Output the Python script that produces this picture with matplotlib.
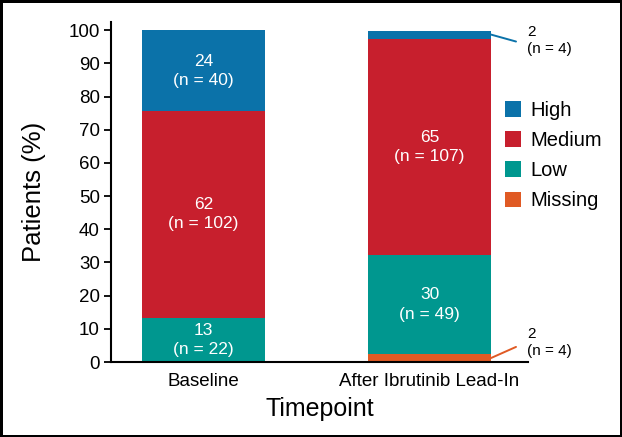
import matplotlib
matplotlib.use("Agg")
import matplotlib.pyplot as plt
import numpy as np

# ---- data ----
categories = ['Baseline', 'After Ibrutinib Lead-In']
series_names = ['Missing', 'Low', 'Medium', 'High']
missing_pct = [0.0, 2.4]
low_pct = [13.4, 29.9]
medium_pct = [62.2, 65.2]
high_pct = [24.4, 2.4]
missing_lbl = [None, 2]
low_lbl = [13, 30]
medium_lbl = [62, 65]
high_lbl = [24, 2]
missing_n = [None, 4]
low_n = [22, 49]
medium_n = [102, 107]
high_n = [40, 4]
yticks = list(range(0, 101, 10))

colors = {'High': '#0b72a9', 'Medium': '#c71f2d', 'Low': '#00978f', 'Missing': '#e05a24'}

plt.rcParams['font.family'] = ['Liberation Sans', 'DejaVu Sans']

fig = plt.figure(figsize=(6.22, 4.37), dpi=100)
fig.patch.set_edgecolor('black')
fig.patch.set_linewidth(2.5)
ax = fig.add_axes([0.1785, 0.1716, 0.6705, 0.7781])

x = np.arange(len(categories))
w = 0.544
pct = {'Missing': missing_pct, 'Low': low_pct, 'Medium': medium_pct, 'High': high_pct}
lbl = {'Missing': missing_lbl, 'Low': low_lbl, 'Medium': medium_lbl, 'High': high_lbl}
nn = {'Missing': missing_n, 'Low': low_n, 'Medium': medium_n, 'High': high_n}

bottom = np.zeros(len(categories))
handles = {}
for name in series_names:
    vals = np.array(pct[name])
    b = ax.bar(x, vals, w, bottom=bottom, color=colors[name], label=name, linewidth=0)
    handles[name] = b
    for i in range(len(categories)):
        v = vals[i]
        if v <= 0:
            continue
        yc = bottom[i] + v / 2
        txt = f"{lbl[name][i]}\n(n = {nn[name][i]})"
        if v >= 10:
            ax.text(x[i], yc, txt, ha='center', va='center', color='white',
                    fontsize=12.5, linespacing=1.35)
        else:
            up = (name == 'Missing')
            dy_line = 8 if up else -5
            dy_txt = 11 if up else -4
            ax.annotate('', xy=(x[i] + w / 2, yc), xycoords='data',
                        xytext=(18, dy_line), textcoords='offset points',
                        arrowprops=dict(arrowstyle='-', color=colors[name], lw=1.4,
                                        shrinkA=0, shrinkB=0))
            ax.annotate(txt, xy=(x[i] + w / 2, yc), xycoords='data',
                        xytext=(26, dy_txt), textcoords='offset points',
                        ha='left', va='center', fontsize=11, color='black',
                        linespacing=1.25, annotation_clip=False)
    bottom = bottom + vals

ax.set_xlim(-0.409, 1.436)
ax.set_ylim(0, 102.5)
ax.set_yticks(yticks)
ax.set_xticks(x)
ax.set_xticklabels(categories)
for s in ['top', 'right']:
    ax.spines[s].set_visible(False)
for s in ['left', 'bottom']:
    ax.spines[s].set_linewidth(1.5)
ax.tick_params(axis='y', length=5, width=1.3, pad=3, labelsize=13.5)
ax.tick_params(axis='x', length=0, pad=8, labelsize=13.5)

ax.set_ylabel('Patients (%)', fontsize=18.5, labelpad=16)
ax.set_xlabel('Timepoint', fontsize=18, labelpad=5)

order = ['High', 'Medium', 'Low', 'Missing']
leg = fig.legend([handles[k] for k in order], order, loc='upper left',
                 bbox_to_anchor=(505 / 622, 1 - 101 / 437), frameon=False,
                 borderpad=0, borderaxespad=0, handlelength=0.8, handleheight=0.8,
                 handletextpad=0.45, labelspacing=0.55, fontsize=14.5)

fig.savefig('out.png', dpi=100)
